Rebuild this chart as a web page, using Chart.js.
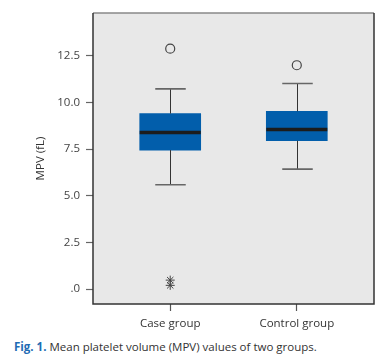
<!DOCTYPE html>
<html>
<head>
<meta charset="utf-8">
<script src="https://cdn.jsdelivr.net/npm/chart.js@4"></script>
<style>
  html, body { margin: 0; padding: 0; background: #fff; }
  #wrap { position: relative; width: 389px; height: 363px; }
  #box { position: absolute; left: 0; top: 0; width: 389px; height: 335px; }
  #caption {
    position: absolute; left: 14px; top: 339px; white-space: nowrap;
    font-family: "Open Sans", sans-serif; font-size: 11.5px; color: #333;
  }
  #caption b { color: #1f6cb4; }
</style>
</head>
<body>
<div id="wrap">
  <div id="box"><canvas id="chartCanvas"></canvas></div>
  <div id="caption"><b>Fig. 1.</b> Mean platelet volume (MPV) values of two groups.</div>
</div>
<script>
const groups = ["Case group", "Control group"];
const q1 = [7.45, 7.95];
const median = [8.40, 8.56];
const q3 = [9.41, 9.53];
const whiskerLow = [5.59, 6.43];
const whiskerHigh = [10.73, 11.02];
// outliers (circles) and extremes (stars)
const outliers = [{ g: 1, v: 12.89 }, { g: 2, v: 12.0 }];
const extremes = [{ g: 1, v: 0.48 }, { g: 1, v: 0.2 }];
const yTicks = [0, 2.5, 5.0, 7.5, 10.0, 12.5];

const fontFam = '"Open Sans", sans-serif';

// frame + grey panel + whiskers/medians, all from scales
const boxPlot = {
  id: 'boxPlot',
  beforeDatasetsDraw(chart) {
    const { ctx, chartArea: a } = chart;
    ctx.save();
    ctx.fillStyle = '#e8e8e8';
    ctx.fillRect(a.left, a.top, a.right - a.left, a.bottom - a.top);
    ctx.restore();
  },
  afterDatasetsDraw(chart) {
    const { ctx } = chart;
    const y = chart.scales.y;
    const bars = chart.getDatasetMeta(0).data;
    ctx.save();
    bars.forEach((bar, i) => {
      const x = Math.round(bar.x) + 0.5;
      const half = bar.width / 2;
      // whiskers
      ctx.strokeStyle = '#333';
      ctx.lineWidth = 1;
      ctx.beginPath();
      ctx.moveTo(x, y.getPixelForValue(q3[i]));
      ctx.lineTo(x, y.getPixelForValue(whiskerHigh[i]));
      ctx.moveTo(x, y.getPixelForValue(q1[i]));
      ctx.lineTo(x, y.getPixelForValue(whiskerLow[i]));
      ctx.stroke();
      // caps
      ctx.strokeStyle = '#666';
      ctx.lineWidth = 1.6;
      ctx.beginPath();
      [whiskerHigh[i], whiskerLow[i]].forEach(v => {
        const py = y.getPixelForValue(v);
        ctx.moveTo(x - half / 2, py);
        ctx.lineTo(x + half / 2, py);
      });
      ctx.stroke();
      // median
      ctx.strokeStyle = '#1c1c1c';
      ctx.lineWidth = 3.5;
      ctx.beginPath();
      const my = y.getPixelForValue(median[i]);
      ctx.moveTo(bar.x - half, my);
      ctx.lineTo(bar.x + half, my);
      ctx.stroke();
    });
    ctx.restore();
  },
  afterDraw(chart) {
    const { ctx, chartArea: a } = chart;
    ctx.save();
    ctx.lineWidth = 1.5;
    ctx.strokeStyle = '#888';
    ctx.beginPath();
    ctx.moveTo(a.left, a.top);
    ctx.lineTo(a.right, a.top);
    ctx.stroke();
    ctx.strokeStyle = '#333';
    ctx.beginPath();
    ctx.moveTo(a.right, a.top);
    ctx.lineTo(a.right, a.bottom);
    ctx.lineTo(a.left, a.bottom);
    ctx.lineTo(a.left, a.top);
    ctx.stroke();
    ctx.restore();
  }
};

const ctx = document.getElementById('chartCanvas').getContext('2d');
new Chart(ctx, {
  data: {
    datasets: [
      {
        type: 'bar',
        data: groups.map((g, i) => ({ x: i + 1, y: [q1[i], q3[i]] })),
        backgroundColor: '#025eab',
        borderWidth: 0,
        barThickness: 61,
        grouped: false
      },
      {
        type: 'scatter',
        data: outliers.map(o => ({ x: o.g, y: o.v })),
        pointStyle: 'circle',
        pointRadius: 4.5,
        pointBorderWidth: 1.2,
        pointBorderColor: '#444',
        pointBackgroundColor: 'rgba(0,0,0,0)'
      },
      {
        type: 'scatter',
        data: extremes.map(o => ({ x: o.g, y: o.v })),
        pointStyle: 'star',
        pointRadius: 4.5,
        pointBorderWidth: 1,
        pointBorderColor: '#444',
        pointBackgroundColor: 'rgba(0,0,0,0)'
      }
    ]
  },
  options: {
    responsive: true,
    maintainAspectRatio: false,
    animation: false,
    layout: { padding: { left: 0, top: 13, right: 15, bottom: 0 } },
    plugins: {
      legend: { display: false },
      tooltip: { enabled: false }
    },
    scales: {
      x: {
        type: 'linear',
        min: 0.39,
        max: 2.61,
        offset: false,
        afterBuildTicks: (s) => { s.ticks = groups.map((g, i) => ({ value: i + 1 })); },
        afterFit: (s) => { s.height = 31; },
        grid: { offset: false, drawOnChartArea: false, tickLength: 7, tickColor: '#555', tickWidth: 1.2 },
        border: { display: false },
        ticks: {
          padding: 6,
          color: '#333',
          font: { family: fontFam, size: 11.5 },
          maxRotation: 0,
          callback: (v) => groups[v - 1]
        }
      },
      y: {
        type: 'linear',
        min: -0.8,
        max: 14.8,
        afterBuildTicks: (s) => { s.ticks = yTicks.map(v => ({ value: v })); },
        afterFit: (s) => { s.width = 93; },
        grid: { drawOnChartArea: false, tickLength: 7, tickColor: '#666', tickWidth: 1.2 },
        border: { display: false },
        ticks: {
          padding: 6,
          color: '#444',
          font: { family: fontFam, size: 11.5 },
          callback: (v) => v === 0 ? '.0' : v.toFixed(1)
        },
        title: {
          display: true,
          text: 'MPV (fL)',
          color: '#333',
          font: { family: fontFam, size: 11.5 },
          padding: { top: 34, bottom: 0 }
        }
      }
    }
  },
  plugins: [boxPlot]
});
</script>
</body>
</html>
